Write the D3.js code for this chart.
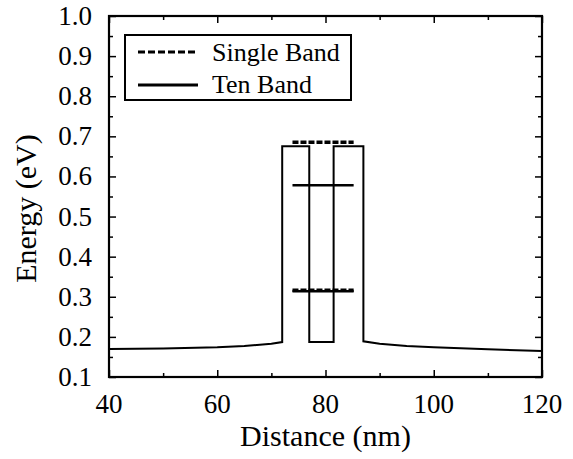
<!DOCTYPE html>
<html>
<head>
<meta charset="utf-8">
<script src="https://cdn.jsdelivr.net/npm/d3@7"></script>
<style>
  body { margin: 0; background: #fff; }
</style>
</head>
<body>
<div id="vis"></div>
<script>
// Potential profile (drawn solid)
const PROFILE_X = [40, 50, 60, 65, 70, 72, 72, 77, 77, 81.5, 81.5, 87, 87, 90, 95, 100, 110, 120];
const PROFILE_Y = [0.170, 0.171, 0.174, 0.177, 0.183, 0.187, 0.675, 0.675, 0.187, 0.187, 0.675, 0.675, 0.189, 0.183, 0.177, 0.174, 0.169, 0.165];

// Energy levels: [x start, x end, energy]
const SINGLE_BAND_LEVELS = [[73.9, 85.2, 0.685], [73.9, 85.2, 0.316]];
const TEN_BAND_LEVELS = [[73.9, 85.2, 0.578], [73.9, 85.2, 0.314]];

const X_TICKS = [40, 60, 80, 100, 120];
const Y_TICKS = [0.1, 0.2, 0.3, 0.4, 0.5, 0.6, 0.7, 0.8, 0.9, 1.0];
const LEGEND_LABELS = ["Single Band", "Ten Band"];

const FRAME_WIDTH = 573;
const FRAME_HEIGHT = 459;
const MARGINS = { left: 109, right: 31, top: 16, bottom: 82 };
const VIS_WIDTH = FRAME_WIDTH - MARGINS.left - MARGINS.right;
const VIS_HEIGHT = FRAME_HEIGHT - MARGINS.top - MARGINS.bottom;
const SERIF = "'Liberation Serif', 'DejaVu Serif', serif";

const svg = d3.select("#vis")
  .append("svg")
  .attr("width", FRAME_WIDTH)
  .attr("height", FRAME_HEIGHT)
  .style("font-family", SERIF);

const g = svg.append("g")
  .attr("transform", `translate(${MARGINS.left},${MARGINS.top})`);

const X_SCALE = d3.scaleLinear().domain([40, 120]).range([0, VIS_WIDTH]);
const Y_SCALE = d3.scaleLinear().domain([0.1, 1.0]).range([VIS_HEIGHT, 0]);

// ticks inside on all four sides
function ticks(axis, vals, size) {
  return axis.tickValues(vals).tickSize(size).tickFormat("");
}
const xMinor = d3.range(50, 120, 20);
const yMinor = d3.range(0.15, 1.0, 0.1);

g.append("g").attr("transform", `translate(0,${VIS_HEIGHT})`).call(ticks(d3.axisTop(X_SCALE), X_TICKS, 7));
g.append("g").attr("transform", `translate(0,${VIS_HEIGHT})`).call(ticks(d3.axisTop(X_SCALE), xMinor, 4));
g.append("g").call(ticks(d3.axisBottom(X_SCALE), X_TICKS, 7));
g.append("g").call(ticks(d3.axisBottom(X_SCALE), xMinor, 4));
g.append("g").call(ticks(d3.axisRight(Y_SCALE), Y_TICKS, 7));
g.append("g").call(ticks(d3.axisRight(Y_SCALE), yMinor, 4));
g.append("g").attr("transform", `translate(${VIS_WIDTH},0)`).call(ticks(d3.axisLeft(Y_SCALE), Y_TICKS, 7));
g.append("g").attr("transform", `translate(${VIS_WIDTH},0)`).call(ticks(d3.axisLeft(Y_SCALE), yMinor, 4));
g.selectAll(".domain").remove();
g.selectAll(".tick line").attr("stroke", "#000").attr("stroke-width", 1.5);

// frame
g.append("rect")
  .attr("width", VIS_WIDTH).attr("height", VIS_HEIGHT)
  .attr("fill", "none").attr("stroke", "#000").attr("stroke-width", 2.2);

// tick labels
g.selectAll(".xlab").data(X_TICKS).enter().append("text")
  .attr("x", d => X_SCALE(d)).attr("y", VIS_HEIGHT + 36)
  .attr("text-anchor", "middle").attr("font-size", 27)
  .attr("font-family", SERIF)
  .text(d => d);
g.selectAll(".ylab").data(Y_TICKS).enter().append("text")
  .attr("x", -17).attr("y", d => Y_SCALE(d) + 9)
  .attr("text-anchor", "end").attr("font-size", 27)
  .attr("font-family", SERIF)
  .text(d => d3.format(".1f")(d));

// axis titles
g.append("text")
  .attr("x", VIS_WIDTH / 2).attr("y", VIS_HEIGHT + 69)
  .attr("text-anchor", "middle").attr("font-size", 30)
  .attr("font-family", SERIF)
  .text("Distance (nm)");
g.append("text")
  .attr("transform", `translate(-73,${VIS_HEIGHT / 2 + 12}) rotate(-90)`)
  .attr("text-anchor", "middle").attr("font-size", 30)
  .attr("font-family", SERIF)
  .text("Energy (eV)");

// profile
const line = d3.line().x(d => X_SCALE(d[0])).y(d => Y_SCALE(d[1]));
g.append("path")
  .datum(PROFILE_X.map((x, i) => [x, PROFILE_Y[i]]))
  .attr("d", line)
  .attr("fill", "none").attr("stroke", "#000").attr("stroke-width", 2);

// levels
g.selectAll(".ten").data(TEN_BAND_LEVELS).enter().append("line")
  .attr("x1", d => X_SCALE(d[0])).attr("x2", d => X_SCALE(d[1]))
  .attr("y1", d => Y_SCALE(d[2])).attr("y2", d => Y_SCALE(d[2]))
  .attr("stroke", "#000").attr("stroke-width", 2.5);
g.selectAll(".single").data(SINGLE_BAND_LEVELS).enter().append("line")
  .attr("x1", d => X_SCALE(d[0])).attr("x2", d => X_SCALE(d[1]))
  .attr("y1", d => Y_SCALE(d[2])).attr("y2", d => Y_SCALE(d[2]))
  .attr("stroke", "#000").attr("stroke-width", 3.5)
  .attr("stroke-dasharray", "6,2");

// legend
const legend = g.append("g").attr("transform", "translate(16,19)");
legend.append("rect")
  .attr("width", 226).attr("height", 65)
  .attr("fill", "#fff").attr("stroke", "#000").attr("stroke-width", 2);
legend.selectAll(".lg").data(LEGEND_LABELS).enter().append("line")
  .attr("x1", 13).attr("x2", 73)
  .attr("y1", (d, i) => 17 + i * 33).attr("y2", (d, i) => 17 + i * 33)
  .attr("stroke", "#000").attr("stroke-width", 3)
  .attr("stroke-dasharray", (d, i) => i === 0 ? "7,3" : null);
legend.selectAll(".lt").data(LEGEND_LABELS).enter().append("text")
  .attr("x", 87).attr("y", (d, i) => 26 + i * 32)
  .attr("font-size", 26)
  .attr("font-family", SERIF)
  .text(d => d);
</script>
</body>
</html>
